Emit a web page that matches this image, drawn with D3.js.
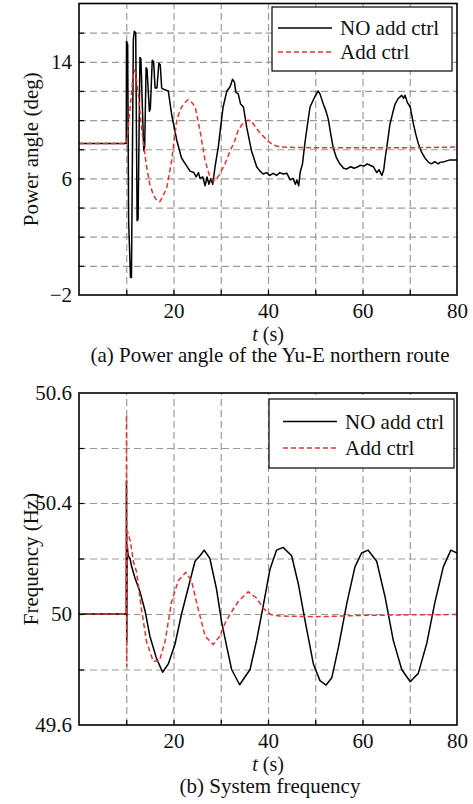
<!DOCTYPE html>
<html>
<head>
<meta charset="utf-8">
<script src="https://cdn.jsdelivr.net/npm/d3@7"></script>
<style>
body { margin: 0; background: #fff; }
text { font-family: "Liberation Serif", "Times New Roman", serif; fill: #111; }
</style>
</head>
<body>
<div id="chart-area"></div>
<script>
// (a) power angle, [t (s), deg]
var angleNoCtrl = [[0,8.4],[10,8.4],[10.05,15.4],[10.3,15.2],[10.5,3.1],[10.9,-0.8],[11.1,-0.8],[11.5,15.5],[11.7,16.1],[12.0,16.0],[12.3,3.1],[12.5,3.2],
    [12.9,14.3],[13.1,14.2],[13.7,7.9],[13.9,8.2],[14.2,13.6],[14.4,13.5],[14.9,10.6],[15.1,10.8],[15.5,14.1],[15.8,14.0],[16.1,12.2],[16.5,12.2],
    [16.9,13.9],[17.2,13.8],[17.5,12.2],[18.0,12.1],[18.9,12.0],[19.6,10.4],[20.7,8.6],[21.7,7.4],[22.5,7.0],[23.5,6.5],[24.3,6.4],[24.8,6.1],
    [25.3,6.4],[25.6,6.0],[26.2,6.1],[26.7,5.5],[27.1,6.1],[27.5,5.6],[27.9,6.0],[28.3,5.6],[28.8,6.8],[29.5,8.2],[30.0,9.6],[30.5,10.9],
    [31.3,12.0],[32.0,12.3],[32.5,12.8],[32.9,12.6],[33.2,11.9],[33.7,11.8],[34.2,11.1],[34.8,10.9],[35.5,9.5],[36.5,7.9],[37.6,6.8],[38.3,6.5],
    [39.0,6.3],[39.7,6.4],[40.3,6.2],[41.1,6.35],[41.8,6.2],[42.5,6.4],[43.2,6.3],[44.0,6.35],[44.7,5.9],[45.3,6.0],[45.8,5.6],[46.1,5.9],
    [46.5,5.5],[46.8,6.4],[47.3,7.0],[47.8,8.4],[48.4,9.8],[48.9,10.9],[49.9,11.6],[50.6,12.0],[51.0,11.8],[51.7,11.1],[52.3,10.6],[52.8,10.0],
    [53.3,9.0],[53.8,8.1],[54.5,7.4],[55.2,7.0],[56.0,6.7],[56.7,6.65],[57.5,6.8],[58.2,6.7],[58.8,6.76],[59.5,6.9],[60.3,6.85],[61.0,7.0],
    [61.6,6.9],[62.3,6.8],[63.0,6.4],[63.5,6.6],[64.1,6.2],[64.5,6.6],[64.8,7.4],[65.3,8.5],[65.8,9.7],[66.4,10.5],[66.9,11.1],[67.6,11.5],
    [68.3,11.7],[68.7,11.5],[69.0,11.7],[69.5,11.2],[70.1,10.9],[70.5,10.2],[70.8,9.7],[71.3,9.0],[71.8,8.4],[72.5,7.8],[73.2,7.4],[74.0,7.1],
    [74.6,7.0],[75.3,7.15],[76.0,7.0],[76.4,7.1],[77.3,7.15],[78.5,7.27],[80,7.27]];

var angleCtrl = [[0,8.4],[10,8.4],[10.1,8.5],[10.9,11.1],[11.4,12.9],[11.7,13.4],[12.0,13.2],[12.55,11.8],[13.3,9.3],[14.3,6.8],[15.0,5.6],
    [15.7,4.9],[16.4,4.5],[17.1,4.4],[17.8,4.8],[18.6,5.4],[19.6,7.2],[20.7,10.0],[21.4,10.7],[22.1,11.1],[23.1,11.4],[23.9,11.2],[24.6,10.9],
    [25.6,9.3],[26.7,7.2],[27.7,6.1],[28.4,5.85],[29.0,5.9],[29.8,6.3],[30.9,7.0],[32.0,7.9],[33.0,8.6],[33.7,9.3],[34.5,9.7],[35.8,10.0],
    [36.5,9.9],[37.2,9.6],[38.1,9.2],[39.0,8.9],[40.0,8.55],[41.1,8.3],[42.5,8.15],[50,8.1],[60,8.1],[70,8.1],[80,8.15]];

// (b) system frequency, [t (s), Hz]
var freqNoCtrl = [[0,50],[10,50],[10.05,50.44],[10.1,49.9],[10.2,50.25],[10.4,50.21],[10.8,50.2],[11.15,50.17],[11.85,50.13],[12.9,50.08],
    [14.0,50.01],[15.0,49.92],[16.4,49.84],[17.7,49.79],[18.9,49.82],[20.3,49.89],[21.7,50.0],[23.5,50.12],[24.55,50.19],[25.6,50.21],
    [26.5,50.23],[27.7,50.2],[29.1,50.09],[30.2,49.97],[31.3,49.88],[32.3,49.8],[34.0,49.745],[36.2,49.8],[37.6,49.906],[39.0,50.03],
    [40.4,50.16],[41.8,50.23],[43.2,50.24],[45.0,50.21],[46.4,50.11],[47.8,49.98],[49.6,49.82],[51.0,49.76],[52.3,49.744],[53.5,49.77],
    [54.9,49.88],[56.7,50.04],[58.4,50.17],[59.8,50.22],[61.2,50.23],[63.0,50.19],[64.8,50.06],[66.5,49.906],[68.3,49.8],[70.1,49.756],
    [71.8,49.786],[73.6,49.894],[75.3,50.04],[77.1,50.17],[78.7,50.23],[80,50.22]];

var freqCtrl = [[0,50],[10,50],[10.05,50.56],[10.1,49.81],[10.2,50.3],[10.4,50.29],[10.9,50.26],[11.5,50.19],[12.2,50.15],[13.2,50.02],
    [14.3,49.9],[15.7,49.83],[17.0,49.83],[18.2,49.9],[19.6,50.044],[21.0,50.12],[22.6,50.15],[23.8,50.12],[25.2,50.02],[26.7,49.92],
    [28.4,49.89],[29.8,49.92],[31.0,49.97],[32.0,50.0],[33.7,50.045],[35.8,50.08],[37.6,50.057],[39.0,50.02],[40.7,49.997],[42.5,49.993],
    [50,49.99],[60,49.995],[70,49.997],[80,49.998]];

var timeTicks = [20, 40, 60, 80];
var timeGrid = [10, 20, 30, 40, 50, 60, 70];
var angleTicks = [-2, 6, 14];
var angleGrid = [0, 2, 4, 6, 8, 10, 12, 14, 16];
var freqTicks = [49.6, 50, 50.4, 50.6];
var freqGrid = [49.8, 50, 50.2, 50.4, 50.5];
var seriesNames = ["NO add ctrl", "Add ctrl"];

var fontSize = "21px";

var svg = d3.select("#chart-area").append("svg")
    .attr("width", 473)
    .attr("height", 804)
    .style("display", "block");

var plotLeft = 79, plotRight = 457;
var xScale = d3.scaleLinear().domain([0, 80]).range([plotLeft, plotRight]);

function drawPanel(p) {
    var y = p.yScale;
    var top = y.range()[y.range().length - 1], bottom = y.range()[0];
    var w = plotRight - plotLeft;
    var g = svg.append("g");

    g.append("clipPath").attr("id", p.id + "-clip")
        .append("rect").attr("x", plotLeft).attr("y", top).attr("width", w).attr("height", bottom - top);

    // dashed grid
    var gx = g.append("g").attr("transform", `translate(0,${bottom})`)
        .call(d3.axisBottom(xScale).tickValues(timeGrid).tickSize(-(bottom - top)).tickFormat(""));
    var gy = g.append("g").attr("transform", `translate(${plotLeft},0)`)
        .call(d3.axisLeft(y).tickValues(p.grid).tickSize(-w).tickFormat(""));
    [gx, gy].forEach(a => {
        a.select(".domain").remove();
        a.selectAll("line").attr("stroke", "#9a9a9a").attr("stroke-width", 1.2).attr("stroke-dasharray", "7,4");
    });

    // curves
    var line = d3.line().x(d => xScale(d[0])).y(d => y(d[1]));
    var curves = g.append("g").attr("clip-path", `url(#${p.id}-clip)`);
    curves.append("path").datum(p.black).attr("d", line)
        .attr("fill", "none").attr("stroke", "#000").attr("stroke-width", 1.5).attr("stroke-linejoin", "round");
    curves.append("path").datum(p.red).attr("d", line)
        .attr("fill", "none").attr("stroke", "#f03030").attr("stroke-width", 1.5).attr("stroke-dasharray", "5,3");

    // inner ticks
    var tx = g.append("g").attr("transform", `translate(0,${bottom})`)
        .call(d3.axisBottom(xScale).tickValues(timeGrid).tickSize(-5).tickFormat(""));
    var ty = g.append("g").attr("transform", `translate(${plotLeft},0)`)
        .call(d3.axisLeft(y).tickValues(p.grid).tickSize(-5).tickFormat(""));
    [tx, ty].forEach(a => {
        a.select(".domain").remove();
        a.selectAll("line").attr("stroke", "#000").attr("stroke-width", 1.2);
    });

    // frame
    g.append("rect").attr("x", plotLeft).attr("y", top).attr("width", w).attr("height", bottom - top)
        .attr("fill", "none").attr("stroke", "#000").attr("stroke-width", 1.6);

    // tick labels
    var lx = g.append("g").attr("transform", `translate(0,${bottom})`)
        .call(d3.axisBottom(xScale).tickValues(timeTicks).tickSize(0).tickPadding(8));
    var ly = g.append("g").attr("transform", `translate(${plotLeft},0)`)
        .call(d3.axisLeft(y).tickValues(p.ticks).tickSize(0).tickPadding(7).tickFormat(d3.format("")));
    [lx, ly].forEach(a => {
        a.select(".domain").remove();
        a.selectAll("text").attr("font-size", fontSize).attr("fill", "#111");
    });

    // axis titles
    var mid = (plotLeft + plotRight) / 2;
    var xt = g.append("text").attr("x", mid).attr("y", bottom + 46).attr("text-anchor", "middle").attr("font-size", "20px");
    xt.append("tspan").attr("font-style", "italic").text("t");
    xt.append("tspan").text(" (s)");
    g.append("text").attr("transform", "rotate(-90)")
        .attr("x", -(top + bottom) / 2).attr("y", 38)
        .attr("text-anchor", "middle").attr("font-size", fontSize).text(p.yLabel);
    g.append("text").attr("x", mid + 2).attr("y", bottom + p.captionDy)
        .attr("text-anchor", "middle").attr("font-size", fontSize).text(p.caption);

    // legend
    var L = p.legend;
    var lg = g.append("g").attr("transform", `translate(${L.x},${L.y})`);
    lg.append("rect").attr("width", L.w).attr("height", L.h)
        .attr("fill", "#fff").attr("stroke", "#000").attr("stroke-width", 1.2);
    seriesNames.forEach((name, i) => {
        var row = lg.append("g").attr("transform", `translate(0,${L.row0 + i * L.step})`);
        row.append("line").attr("x1", L.lineX).attr("x2", L.lineX + 54).attr("y1", 0).attr("y2", 0)
            .attr("stroke", i === 0 ? "#000" : "#f03030").attr("stroke-width", 1.5)
            .attr("stroke-dasharray", i === 0 ? null : "5,3");
        row.append("text").attr("x", L.lineX + 62).attr("y", 7).attr("font-size", fontSize).text(name);
    });
}

drawPanel({
    id: "pa",
    yScale: d3.scaleLinear().domain([-2, 18]).range([295, 3.5]),
    grid: angleGrid,
    ticks: angleTicks,
    black: angleNoCtrl,
    red: angleCtrl,
    yLabel: "Power angle (deg)",
    caption: "(a) Power angle of the Yu-E northern route",
    captionDy: 67,
    legend: { x: 272, y: 7, w: 180, h: 64, row0: 21, step: 24, lineX: 6 }
});

drawPanel({
    id: "pb",
    yScale: d3.scaleLinear().domain([49.6, 50, 50.4, 50.6]).range([725, 614, 503, 393]),
    grid: freqGrid,
    ticks: freqTicks,
    black: freqNoCtrl,
    red: freqCtrl,
    yLabel: "Frequency (Hz)",
    caption: "(b) System frequency",
    captionDy: 68,
    legend: { x: 269, y: 399, w: 185, h: 69, row0: 22.5, step: 26.5, lineX: 14 }
});
</script>
</body>
</html>
